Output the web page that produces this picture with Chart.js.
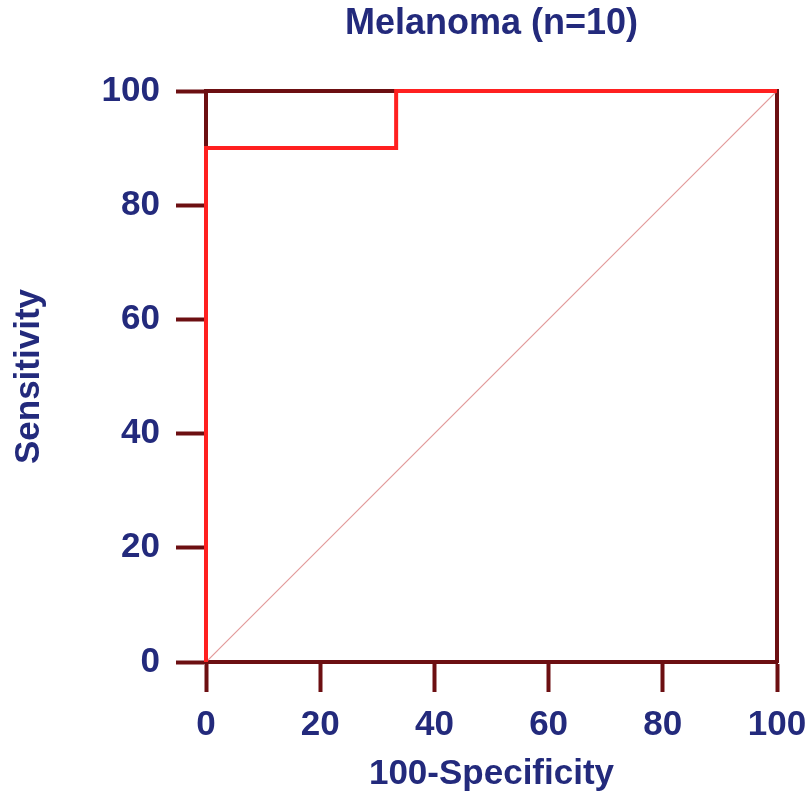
<!DOCTYPE html>
<html>
<head>
  <meta charset="UTF-8" />
  <title>Melanoma (n=10)</title>
  <script src="https://cdn.jsdelivr.net/npm/chart.js"></script>
  <style>
    body {
      margin: 0;
      padding: 0;
      background: white;
    }
    canvas {
      display: block;
    }
  </style>
</head>
<body>
  <canvas id="rocChart" width="810" height="807"></canvas>
  <script>
    // ROC curve points (100-specificity, sensitivity)
    const rocX = [0, 0, 33.3, 33.3, 100];
    const rocY = [0, 90, 90, 100, 100];
    // reference diagonal
    const diagX = [0, 100];
    const diagY = [0, 100];
    const tickValues = [0, 20, 40, 60, 80, 100];

    const navy = '#232a7c';
    const maroon = '#6c0f12';
    const labelFont = { family: 'Arial, "Liberation Sans", sans-serif', size: 35, weight: 'bold' };
    const titleFont = { family: 'Arial, "Liberation Sans", sans-serif', size: 36, weight: 'bold' };

    const toPoints = (xs, ys) => xs.map((x, i) => ({ x: x, y: ys[i] }));

    const ctx = document.getElementById('rocChart').getContext('2d');
    new Chart(ctx, {
      type: 'scatter',
      data: {
        datasets: [{
          label: 'ROC',
          data: toPoints(rocX, rocY),
          showLine: true,
          borderColor: '#ff2020',
          borderWidth: 4,
          pointRadius: 0,
          tension: 0,
          clip: false,
          xAxisID: 'x',
          yAxisID: 'y'
        }, {
          label: 'Reference',
          data: toPoints(diagX, diagY),
          showLine: true,
          borderColor: '#e29a9a',
          borderWidth: 1.2,
          pointRadius: 0,
          tension: 0,
          xAxisID: 'x',
          yAxisID: 'y'
        }]
      },
      options: {
        responsive: false,
        animation: false,
        layout: { padding: 0 },
        plugins: {
          legend: { display: false },
          tooltip: { enabled: false },
          title: { display: false }
        },
        scales: {
          x: {
            type: 'linear',
            position: 'bottom',
            min: 0,
            max: 100,
            afterBuildTicks: s => { s.ticks = tickValues.map(v => ({ value: v })); },
            ticks: { color: navy, font: labelFont, padding: 12, maxRotation: 0 },
            grid: { drawOnChartArea: false, tickLength: 30, tickWidth: 4, tickColor: maroon },
            border: { display: true, width: 4, color: maroon },
            title: { display: true, text: '100-Specificity', color: navy, font: labelFont, padding: { top: 0, bottom: 12 } },
            afterFit: s => { s.height = 145; s.paddingLeft = 0; s.paddingRight = 0; }
          },
          y: {
            type: 'linear',
            position: 'left',
            min: 0,
            max: 100,
            afterBuildTicks: s => { s.ticks = tickValues.map(v => ({ value: v })); },
            ticks: { color: navy, font: labelFont, padding: 16 },
            grid: { drawOnChartArea: false, tickLength: 30, tickWidth: 4, tickColor: maroon },
            border: { display: true, width: 4, color: maroon },
            title: { display: true, text: 'Sensitivity', color: navy, font: labelFont, padding: { top: 8, bottom: 0 } },
            afterFit: s => { s.width = 206; s.paddingTop = 0; s.paddingBottom = 0; }
          },
          xTop: {
            type: 'linear',
            position: 'top',
            min: 0,
            max: 100,
            ticks: { display: false },
            grid: { display: false },
            border: { display: true, width: 4, color: maroon },
            title: { display: true, text: 'Melanoma (n=10)', color: navy, font: titleFont, padding: { top: 2, bottom: 0 } },
            afterFit: s => { s.height = 91; }
          },
          yRight: {
            type: 'linear',
            position: 'right',
            min: 0,
            max: 100,
            ticks: { display: false },
            grid: { display: false },
            border: { display: true, width: 4, color: maroon },
            afterFit: s => { s.width = 33; }
          }
        }
      }
    });
  </script>
</body>
</html>
